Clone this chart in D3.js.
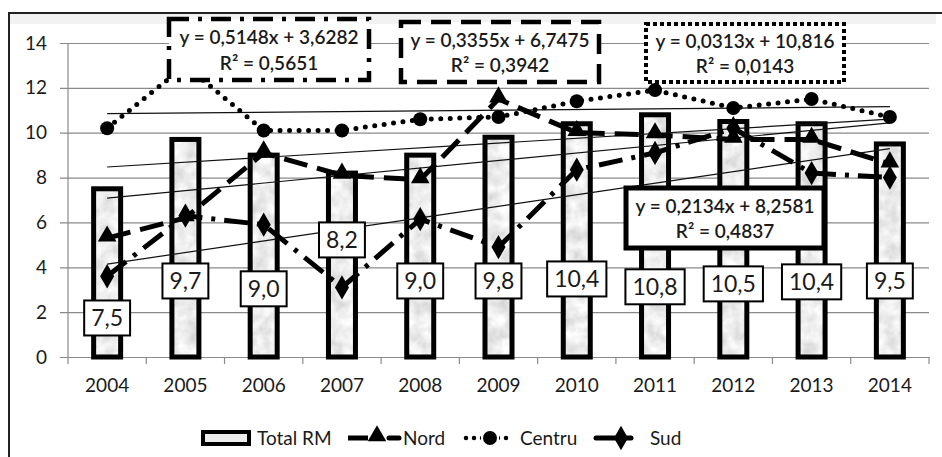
<!DOCTYPE html>
<html>
<head>
<meta charset="utf-8">
<script src="https://cdn.jsdelivr.net/npm/d3@7/dist/d3.min.js"></script>
<style>
  body { margin: 0; background: #fff; }
  svg text { font-family: Lato, "Open Sans", sans-serif; fill: #1a1a1a; }
</style>
</head>
<body>
<div id="chart"></div>
<script>
const years = ['2004','2005','2006','2007','2008','2009','2010','2011','2012','2013','2014'];
const totalRM = [7.5, 9.7, 9.0, 8.2, 9.0, 9.8, 10.4, 10.8, 10.5, 10.4, 9.5];
const nord = [5.3, 6.2, 9.1, 8.1, 7.9, 11.5, 10.0, 9.9, 9.7, 9.7, 8.6];
const centru = [10.2, 13.0, 10.1, 10.1, 10.6, 10.7, 11.4, 11.9, 11.1, 11.5, 10.7];
const sud = [3.6, 6.3, 5.9, 3.1, 6.15, 4.9, 8.35, 9.1, 10.2, 8.2, 8.0];
const yTicks = [0, 2, 4, 6, 8, 10, 12, 14];

// linear trend lines (slope, intercept) with x = 1..11
const trendSud = [0.5148, 3.6282, 0.5651];
const trendNord = [0.3355, 6.7475, 0.3942];
const trendCentru = [0.0313, 10.816, 0.0143];
const trendTotal = [0.2134, 8.2581, 0.4837];

// where Excel left the data labels (in value units)
const labelAt = [1.74, 3.39, 3.04, 5.22, 3.39, 3.39, 3.48, 3.13, 3.26, 3.35, 3.39];

const W = 942, H = 457;
const svg = d3.select('#chart').append('svg').attr('width', W).attr('height', H);

const defs = svg.append('defs');
const f = defs.append('filter').attr('id', 'granite')
  .attr('x', 0).attr('y', 0).attr('width', 1).attr('height', 1);
f.append('feTurbulence').attr('type', 'fractalNoise').attr('baseFrequency', 0.07)
  .attr('numOctaves', 3).attr('seed', 4).attr('result', 'n');
f.append('feColorMatrix').attr('in', 'n').attr('type', 'matrix')
  .attr('values', '0.55 0 0 0 0.58  0.55 0 0 0 0.58  0.55 0 0 0 0.58  0 0 0 0 1').attr('result', 'c');
f.append('feComposite').attr('in', 'c').attr('in2', 'SourceGraphic').attr('operator', 'in');

// outer frame
svg.append('rect').attr('x', 10).attr('y', 14).attr('width', 926).attr('height', 10).attr('fill', '#f2f2f2');
svg.append('rect').attr('x', 9).attr('y', 13).attr('width', 960).attr('height', 470)
  .attr('fill', 'none').attr('stroke', '#222').attr('stroke-width', 2);

const x = d3.scaleBand().domain(years).range([68, 929]).padding(0);
const y = d3.scaleLinear().domain([0, 14]).range([357, 43]);
const xi = d3.scaleLinear().domain([1, 11]).range([x(years[0]) + x.bandwidth() / 2, x(years[10]) + x.bandwidth() / 2]);
const cx = d => x(d) + x.bandwidth() / 2;

// grid + y axis
const yAxis = d3.axisLeft(y).tickValues(yTicks).tickSize(-(929 - 60)).tickPadding(12).tickFormat(d3.format('d'));
const gy = svg.append('g').attr('transform', 'translate(929,0)');
gy.call(d3.axisLeft(y).tickValues(yTicks).tickSize(929 - 60).tickFormat(''));
gy.select('.domain').remove();
gy.selectAll('.tick line').attr('stroke', '#8a8a8a').attr('stroke-width', 1.2);
const gyl = svg.append('g').attr('transform', 'translate(60,0)');
gyl.call(d3.axisLeft(y).tickValues(yTicks).tickSize(0).tickPadding(13));
gyl.select('.domain').remove();
gyl.selectAll('text').style('font-size', '19px');
svg.append('line').attr('x1', 68).attr('x2', 68).attr('y1', 43).attr('y2', 357).attr('stroke', '#8a8a8a').attr('stroke-width', 1.2);

// x axis
const gx = svg.append('g').attr('transform', 'translate(0,357)');
gx.call(d3.axisBottom(x).tickSize(0).tickPadding(22));
gx.select('.domain').attr('stroke', '#8a8a8a').attr('stroke-width', 1.2);
gx.selectAll('text').style('font-size', '19px');
gx.selectAll('.bnd').data(d3.range(12)).enter().append('line')
  .attr('x1', i => 68 + i * x.bandwidth()).attr('x2', i => 68 + i * x.bandwidth())
  .attr('y1', 0).attr('y2', 7).attr('stroke', '#8a8a8a').attr('stroke-width', 1.2);

// bars
const bw = 27;
const bars = svg.append('g');
bars.selectAll('.bf').data(totalRM).enter().append('rect')
  .attr('x', (d, i) => cx(years[i]) - bw / 2).attr('y', d => y(d))
  .attr('width', bw).attr('height', d => y(0) - y(d))
  .attr('fill', '#ddd').attr('filter', 'url(#granite)');
bars.selectAll('.bs').data(totalRM).enter().append('rect')
  .attr('x', (d, i) => cx(years[i]) - bw / 2).attr('y', d => y(d))
  .attr('width', bw).attr('height', d => y(0) - y(d))
  .attr('fill', 'none').attr('stroke', '#000').attr('stroke-width', 5);

// trend lines
[trendTotal, trendNord, trendCentru, trendSud].forEach(t => {
  svg.append('line')
    .attr('x1', xi(1)).attr('y1', y(t[0] * 1 + t[1]))
    .attr('x2', xi(11)).attr('y2', y(t[0] * 11 + t[1]))
    .attr('stroke', '#111').attr('stroke-width', 1.2);
});

const line = d3.line().x((d, i) => cx(years[i])).y(d => y(d));

// series lines
svg.append('path').datum(centru).attr('d', line).attr('fill', 'none')
  .attr('stroke', '#000').attr('stroke-width', 5).attr('stroke-linecap', 'round')
  .attr('stroke-dasharray', '0,9.5');
svg.append('path').datum(sud).attr('d', line).attr('fill', 'none')
  .attr('stroke', '#000').attr('stroke-width', 5)
  .attr('stroke-dasharray', '24,9,4,9');
svg.append('path').datum(nord).attr('d', line).attr('fill', 'none')
  .attr('stroke', '#000').attr('stroke-width', 5)
  .attr('stroke-dasharray', '24,10');

// markers
const tri = d3.symbol().type(d3.symbolTriangle).size(150);
const dia = d3.symbol().type(d3.symbolDiamond).size(170);
svg.selectAll('.mc').data(centru).enter().append('circle')
  .attr('cx', (d, i) => cx(years[i])).attr('cy', d => y(d)).attr('r', 7).attr('fill', '#000');
svg.selectAll('.ms').data(sud).enter().append('path').attr('d', dia)
  .attr('transform', (d, i) => `translate(${cx(years[i])},${y(d)})`).attr('fill', '#000');
svg.selectAll('.mn').data(nord).enter().append('path').attr('d', tri)
  .attr('transform', (d, i) => `translate(${cx(years[i])},${y(d) - 2})`).attr('fill', '#000');

// data labels for Total RM
const fmt = v => d3.format('.1f')(v).replace('.', ',');
const lab = svg.append('g');
totalRM.forEach((v, i) => {
  const g = lab.append('g').attr('transform', `translate(${cx(years[i])},${y(labelAt[i])})`);
  const r = g.append('rect').attr('fill', '#fff').attr('stroke', '#000').attr('stroke-width', 2);
  const t = g.append('text').attr('text-anchor', 'middle').attr('dy', '0.36em')
    .style('font-size', '23px').text(fmt(v));
  const w = t.node().getComputedTextLength() + 14;
  r.attr('x', -w / 2).attr('y', -17.5).attr('width', w).attr('height', 35);
});

// equation boxes
const eqFmt = t => [
  `y = ${String(t[0]).replace('.', ',')}x + ${String(t[1]).replace('.', ',')}`,
  `R² = ${t[2].toFixed(4).replace('.', ',')}`
];
const boxes = [
  { t: trendSud, x: 169, y: 19, w: 200, h: 61, dash: '20,9,4,9', sw: 4.5 },
  { t: trendNord, x: 401, y: 22, w: 198, h: 60, dash: '20,10', sw: 4.5 },
  { t: trendCentru, x: 646, y: 24, w: 198, h: 58, dash: '4,3', sw: 4 },
  { t: trendTotal, x: 626, y: 188, w: 198, h: 60, dash: null, sw: 5 }
];
boxes.forEach(b => {
  const g = svg.append('g');
  g.append('rect').attr('x', b.x).attr('y', b.y).attr('width', b.w).attr('height', b.h)
    .attr('fill', '#fff').attr('stroke', '#000').attr('stroke-width', b.sw)
    .attr('stroke-dasharray', b.dash);
  const lines = eqFmt(b.t);
  g.append('text').attr('x', b.x + b.w / 2).attr('y', b.y + b.h * 0.3).attr('dy', '0.36em')
    .attr('text-anchor', 'middle').style('font-size', '19px').style('font-weight', 600).text(lines[0]);
  g.append('text').attr('x', b.x + b.w / 2).attr('y', b.y + b.h * 0.72).attr('dy', '0.36em')
    .attr('text-anchor', 'middle').style('font-size', '19px').style('font-weight', 600).text(lines[1]);
});

// legend
const lg = svg.append('g').attr('transform', 'translate(0,438)');
lg.append('rect').attr('x', 203).attr('y', -6).attr('width', 46).attr('height', 12)
  .attr('fill', '#eee').attr('stroke', '#000').attr('stroke-width', 4);
lg.append('text').attr('x', 257).attr('dy', '0.36em').style('font-size', '19px').text('Total RM');
lg.append('line').attr('x1', 348).attr('x2', 368).attr('stroke', '#000').attr('stroke-width', 5);
lg.append('line').attr('x1', 389).attr('x2', 399).attr('stroke', '#000').attr('stroke-width', 5).attr('stroke-linecap', 'round');
lg.append('path').attr('d', tri).attr('transform', 'translate(377,-2)');
lg.append('text').attr('x', 403).attr('dy', '0.36em').style('font-size', '19px').text('Nord');
lg.append('line').attr('x1', 466).attr('x2', 514).attr('stroke', '#000').attr('stroke-width', 4.5)
  .attr('stroke-linecap', 'round').attr('stroke-dasharray', '0,8');
lg.append('rect').attr('x', 481).attr('y', -9).attr('width', 18).attr('height', 18).attr('fill', '#fff');
lg.append('circle').attr('cx', 490).attr('r', 7);
lg.append('text').attr('x', 520).attr('dy', '0.36em').style('font-size', '19px').text('Centru');
lg.append('line').attr('x1', 596).attr('x2', 631).attr('stroke', '#000').attr('stroke-width', 5).attr('stroke-linecap', 'round');
lg.append('path').attr('d', dia).attr('transform', 'translate(621,0)');
lg.append('text').attr('x', 650).attr('dy', '0.36em').style('font-size', '19px').text('Sud');
</script>
</body>
</html>
